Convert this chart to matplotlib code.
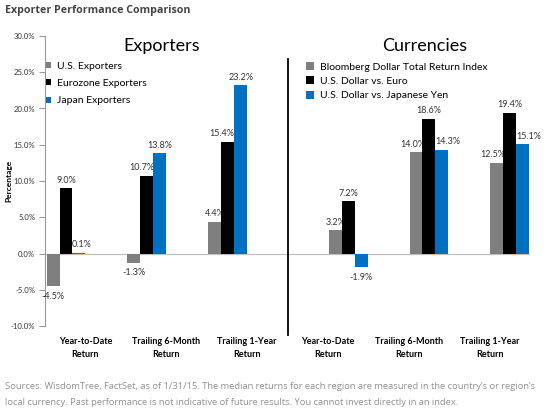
import matplotlib
matplotlib.use("Agg")
import matplotlib.pyplot as plt
import numpy as np

categories = ["Year-to-Date\nReturn", "Trailing 6-Month\nReturn", "Trailing 1-Year\nReturn",
              "Year-to-Date\nReturn", "Trailing 6-Month\nReturn", "Trailing 1-Year\nReturn"]

exp_names = ["U.S. Exporters", "Eurozone Exporters", "Japan Exporters"]
us_exporters = [-4.5, -1.3, 4.4]
eurozone_exporters = [9.0, 10.7, 15.4]
japan_exporters = [0.1, 13.8, 23.2]

cur_names = ["Bloomberg Dollar Total Return Index", "U.S. Dollar vs. Euro", "U.S. Dollar vs. Japanese Yen"]
bloomberg_dollar = [3.2, 14.0, 12.5]
usd_vs_euro = [7.2, 18.6, 19.4]
usd_vs_yen = [-1.9, 14.3, 15.1]

yticks = [-10, -5, 0, 5, 10, 15, 20, 25, 30]

colors = ["#7f7f7f", "#000000", "#0070c0"]
FONT = ["Lato", "DejaVu Sans"]

# small horizontal nudges (points) for value labels, to avoid overlap: (panel, series, group)
label_dx = {(0, 1, 1): -4, (0, 1, 2): -4.5, (0, 2, 0): 2,
            (1, 0, 1): -2, (1, 2, 1): 4, (1, 0, 2): -3, (1, 2, 2): 4}

fig = plt.figure(figsize=(5.5, 4.15), dpi=100)
ax = fig.add_axes([45/550, 1-326/415, 485/550, 290/415])
ax.set_xlim(0, 6)
ax.set_ylim(-10, 30)

centers = np.arange(6) + 0.5
bw = 0.16
left_x = centers[:3] - 0.24
right_x = centers[3:] + 0.25

def draw(panel, xs, series, names):
    handles = []
    for i, (vals, name) in enumerate(zip(series, names)):
        bx = xs + (i - 1) * bw
        b = ax.bar(bx, vals, width=bw, color=colors[i], label=name, zorder=3)
        handles.append(b)
        for j, (x, v) in enumerate(zip(bx, vals)):
            dx = label_dx.get((panel, i, j), 0)
            if v >= 0:
                ax.annotate(f"{v:.1f}%", (x, v), xytext=(dx, 2.5), textcoords="offset points",
                            ha="center", va="bottom", fontsize=6.5, color="#333333", family=FONT)
            else:
                ax.annotate(f"{v:.1f}%", (x, v), xytext=(dx, -4), textcoords="offset points",
                            ha="center", va="top", fontsize=6.5, color="#333333", family=FONT)
    return handles

h1 = draw(0, left_x, [us_exporters, eurozone_exporters, japan_exporters], exp_names)
h2 = draw(1, right_x, [bloomberg_dollar, usd_vs_euro, usd_vs_yen], cur_names)

ax.axhline(0, color="#c0c0c0", lw=0.9, zorder=2)
ax.plot([3, 3], [-11.2, 26.8], color="black", lw=1.3, clip_on=False, zorder=4)

for s in ["top", "right", "bottom"]:
    ax.spines[s].set_visible(False)
ax.spines["left"].set_color("#999999")
ax.spines["left"].set_linewidth(0.8)

ax.set_yticks(yticks)
ax.set_yticklabels([f"{t:.1f}%" for t in yticks], fontsize=5.6, color="#333333", family=FONT)
ax.tick_params(axis="y", length=4, width=0.8, color="#999999", pad=3)
ax.set_xticks(centers)
ax.set_xticklabels(categories, fontsize=6.5, fontweight="bold", family=FONT, linespacing=1.5)
ax.tick_params(axis="x", length=0, pad=8)

fig.text(9/550, 1-181/415, "Percentage", rotation=90, ha="center", va="center",
         fontsize=6, fontweight="bold", family=FONT)

fig.text(162/550, 1-46/415, "Exporters", ha="center", va="center", fontsize=13, family=FONT)
fig.text(425/550, 1-46/415, "Currencies", ha="center", va="center", fontsize=13, family=FONT)

leg1 = ax.legend(handles=h1, loc="upper left", bbox_to_anchor=(46/550, 1-62/415),
                 bbox_transform=fig.transFigure, frameon=False,
                 handlelength=0.5, handleheight=0.5, handletextpad=0.6, labelspacing=0.78,
                 borderpad=0, borderaxespad=0, prop={"family": FONT, "size": 7.5})
ax.add_artist(leg1)
ax.legend(handles=h2, loc="upper left", bbox_to_anchor=(306/550, 1-62/415),
          bbox_transform=fig.transFigure, frameon=False,
          handlelength=0.8, handleheight=0.8, handletextpad=0.5, labelspacing=0.45,
          borderpad=0, borderaxespad=0, prop={"family": FONT, "size": 7.5})

fig.text(5/550, 1-10/415, "Exporter Performance Comparison", ha="left", va="center",
         fontsize=7.7, fontweight="bold", color="#444444", family=["Open Sans", "DejaVu Sans"])
fig.text(5/550, 1-394.5/415,
         "Sources: WisdomTree, FactSet, as of 1/31/15. The median returns for each region are measured in the country\u2019s or region\u2019s\n"
         "local currency. Past performance is not indicative of future results. You cannot invest directly in an index.",
         ha="left", va="center", fontsize=6.75, color="#909090", linespacing=1.9,
         family=["Open Sans", "DejaVu Sans"])

fig.savefig("out.png", dpi=100)
